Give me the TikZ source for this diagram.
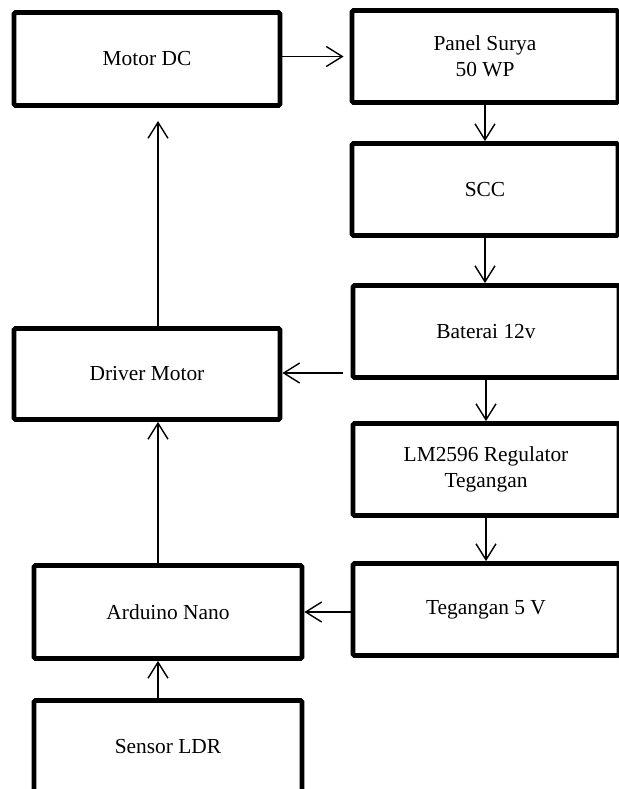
\documentclass[tikz,border=0pt]{standalone}
\usepackage{fontspec}
\setmainfont{Liberation Serif}
\usetikzlibrary{arrows.meta}

\begin{document}
\begin{tikzpicture}[x=0.5pt, y=-0.5pt, >={Straight Barb[length=8pt,width=10pt]}]
	\tikzstyle{box} = [draw, line width=2.4pt, rounded corners=0.8pt, minimum width=133pt, align=center, font=\fontsize{10.7}{13}\selectfont]
	\useasboundingbox (0,0) rectangle (619,789);
	\node [box, minimum height=46.5pt] (motor) at (147, 59) {Motor DC};
	\node [box, minimum height=46pt] (panel) at (485, 56.5) {Panel Surya\\50 WP};
	\node [box, minimum height=46pt] (scc) at (485, 189.5) {SCC};
	\node [box, minimum height=46pt] (baterai) at (486, 331.5) {Baterai 12v};
	\node [box, minimum height=46pt] (lm) at (486, 469.5) {LM2596 Regulator\\Tegangan};
	\node [box, minimum height=46pt] (tegangan) at (486, 609.5) {Tegangan 5 V};
	\node [box, minimum height=45.5pt] (driver) at (147, 374) {Driver Motor};
	\node [box, minimum height=46.5pt, minimum width=134pt] (arduino) at (168, 612) {Arduino Nano};
	\node [box, minimum height=46.5pt, minimum width=134pt] (sensor) at (168, 747) {Sensor LDR};
	\coordinate (spine) at (158, 0);
	\coordinate (motor-in) at (158, 121);
	\coordinate (bat-out) at (343, 373);
	\begin{scope}[line width=0.7pt]
	\draw [->, shorten >=3pt] (motor.east |- panel.west) -- (panel.west);
	\draw [->] (panel.south) -- (scc.north);
	\draw [->] (scc.south) -- (scc.south |- baterai.north);
	\draw [->] (baterai.south) -- (lm.north);
	\draw [->] (lm.south) -- (tegangan.north);
	\draw [->] (bat-out) -- (bat-out -| driver.east);
	\draw [->] (tegangan.west |- arduino.east) -- (arduino.east);
	\draw [->] (spine |- sensor.north) -- (spine |- arduino.south);
	\draw [->] (spine |- arduino.north) -- (spine |- driver.south);
	\draw [->] (spine |- driver.north) -- (motor-in);
	\end{scope}
\end{tikzpicture}
\end{document}
